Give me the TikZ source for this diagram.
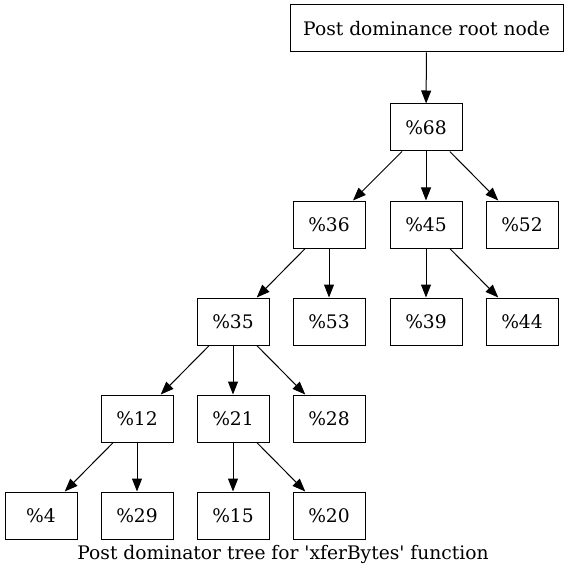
\documentclass[tikz,border=0pt]{standalone}
\usepackage{fontspec}
\setmainfont{DejaVu Serif}[Ligatures=TeXOff]
\usetikzlibrary{arrows.meta}
\tikzset{
  blk/.style={draw,line width=0.75pt,minimum width=54pt,minimum height=35.25pt,
    inner sep=0pt,font=\fontsize{14pt}{16pt}\selectfont},
  edge/.style={line width=0.75pt,-{Triangle[length=9.75pt,width=7.5pt]}}
}
\begin{document}
\begin{tikzpicture}[x=0.75pt,y=-0.75pt]
    \useasboundingbox (0,0) rectangle (565,577);
    % tree nodes, one row per level
    \node[blk,minimum width=204.75pt] (root) at (426.5,28.5) {Post dominance root node};
    \node[blk] (n68) at (426,127.5) {\%68};
    \node[blk] (n36) at (329,224.5) {\%36};
    \node[blk] (n45) at (426,224.5) {\%45};
    \node[blk] (n52) at (522,224.5) {\%52};
    \node[blk] (n35) at (233,321.5) {\%35};
    \node[blk] (n53) at (329,321.5) {\%53};
    \node[blk] (n39) at (426,321.5) {\%39};
    \node[blk] (n44) at (522,321.5) {\%44};
    \node[blk] (n12) at (137,418.5) {\%12};
    \node[blk] (n21) at (233,418.5) {\%21};
    \node[blk] (n28) at (329,418.5) {\%28};
    \node[blk] (n4) at (41,515.5) {\%4};
    \node[blk] (n29) at (137,515.5) {\%29};
    \node[blk] (n15) at (233,515.5) {\%15};
    \node[blk] (n20) at (329,515.5) {\%20};
    % edges
    \foreach \a/\b in {root/n68,n68/n36,n68/n45,n68/n52,n36/n35,n36/n53,
      n45/n39,n45/n44,n35/n12,n35/n21,n35/n28,n12/n4,n12/n29,n21/n15,n21/n20}
      \draw[edge] (\a) -- (\b);
    \node[font=\fontsize{14pt}{16pt}\selectfont] (caption) at (283,554)
      {Post dominator tree for 'xferBytes' function};
\end{tikzpicture}
\end{document}
